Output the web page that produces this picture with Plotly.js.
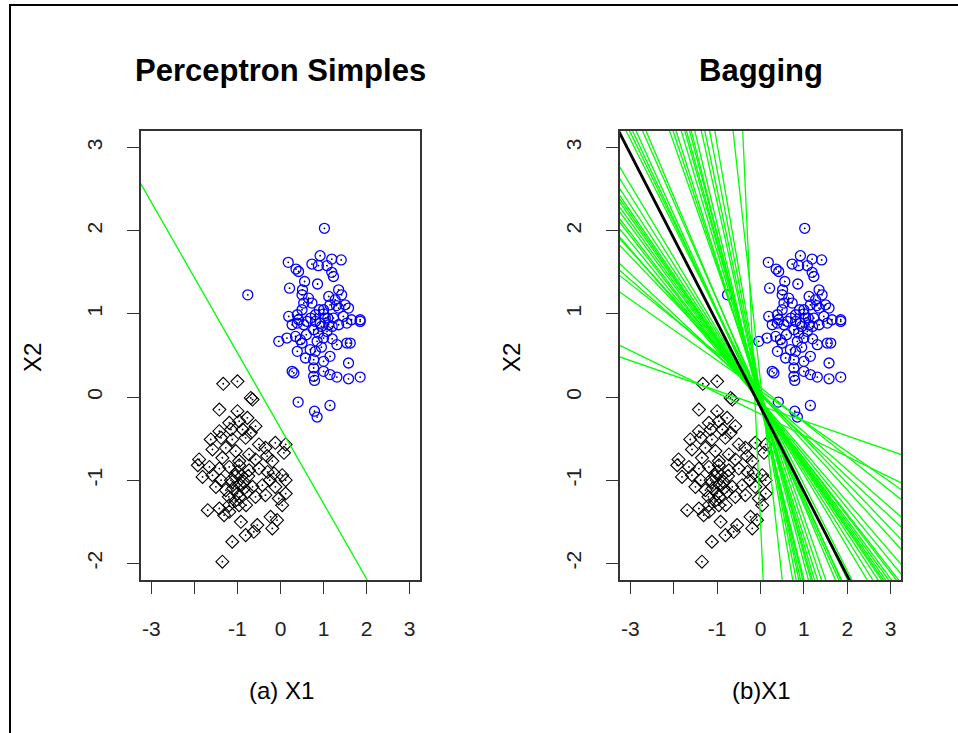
<!DOCTYPE html>
<html><head><meta charset="utf-8">
<script src="https://cdn.plot.ly/plotly-3.0.1.min.js"></script>
<style>
html,body{margin:0;padding:0;background:#fff;}
#chart{position:absolute;left:0;top:0;width:958px;height:733px;}
#frame{position:absolute;left:9px;top:4px;width:960px;height:740px;border-left:2px solid #000;border-top:2px solid #000;pointer-events:none;}
</style></head><body>
<div id="chart"></div><div id="frame"></div>
<script>
// ---- data ----
const blueX = [1.02,0.92,1.19,1.41,0.18,0.73,0.88,1.08,0.36,0.42,1.19,1.23,0.56,0.86,0.21,0.51,0.50,0.65,0.54,1.12,1.35,1.42,1.27,1.50,1.58,1.15,1.35,1.00,0.81,1.04,1.23,1.46,1.65,1.85,0.19,0.39,0.50,0.73,0.42,0.62,
0.27,0.39,0.54,0.81,0.92,1.12,1.35,1.54,1.85,-0.04,0.15,0.35,0.46,0.50,0.77,0.88,1.08,1.00,0.85,1.31,1.54,1.62,0.39,0.58,0.69,0.81,1.00,1.15,0.77,1.58,0.27,0.31,0.77,1.00,1.15,1.31,1.58,1.85,0.77,0.79,0.41,1.15,0.79,0.85,-0.76,
1.00,0.95,1.10,0.90,1.20,0.70,1.30,0.60,0.95,1.20];
const blueY = [2.03,1.70,1.66,1.65,1.62,1.60,1.58,1.58,1.54,1.51,1.50,1.45,1.39,1.36,1.31,1.29,1.23,1.19,1.13,1.21,1.29,1.23,1.17,1.11,1.07,1.11,1.07,1.05,0.99,0.95,0.95,0.97,0.93,0.93,0.97,0.99,1.05,1.13,0.93,0.91,
0.87,0.89,0.87,0.91,0.89,0.87,0.87,0.89,0.91,0.67,0.71,0.73,0.69,0.65,0.81,0.77,0.79,0.71,0.67,0.63,0.65,0.65,0.55,0.47,0.57,0.55,0.43,0.49,0.45,0.41,0.31,0.29,0.35,0.31,0.27,0.24,0.22,0.24,0.25,0.20,-0.06,-0.10,-0.17,-0.24,1.23,
1.00,0.85,0.95,1.05,0.85,0.95,1.10,0.75,0.60,0.70];

const blackX = [-1.33,-1.00,-0.69,-0.65,-1.42,-1.00,-0.77,-0.96,-1.19,-0.58,-1.15,-1.42,-0.88,-0.69,
-1.62,-1.38,-1.12,-0.81,-0.50,-0.35,-0.12,0.08,0.12,-0.31,-1.27,-1.04,-0.73,-1.58,-1.89,-1.35,-0.96,-0.58,-0.19,
-1.92,-1.65,-1.42,-1.19,-0.96,-0.73,-0.50,-0.15,0.04,0.12,-1.81,-1.58,-1.38,-1.12,-0.85,-0.65,-0.42,-0.12,0.12,-1.50,-1.27,-1.00,-0.77,-0.58,-0.35,-0.04,0.04,-1.69,-1.42,-1.31,-1.19,-0.96,-1.19,-0.92,-0.54,-0.23,-0.08,-0.19,-0.62,-0.81,-1.12,-1.35,
-1.05,-0.95,-0.90,-1.10,-0.85,-1.00,-0.95,-1.15,-0.75,-1.05,-0.80,-1.20,-0.30,-0.25];
const blackY = [0.16,0.19,-0.01,-0.03,-0.15,-0.17,-0.25,-0.29,-0.31,-0.35,-0.39,-0.41,-0.39,-0.43,
-0.51,-0.49,-0.51,-0.49,-0.57,-0.61,-0.55,-0.67,-0.57,-0.71,-0.61,-0.65,-0.69,-0.63,-0.75,-0.73,-0.77,-0.75,-0.77,
-0.82,-0.84,-0.86,-0.84,-0.82,-0.88,-0.86,-0.92,-0.94,-1.00,-0.96,-0.94,-1.00,-1.02,-1.02,-1.08,-1.06,-1.08,-1.16,-1.08,-1.12,-1.16,-1.14,-1.20,-1.18,-1.22,-1.30,-1.36,-1.34,-1.42,-1.30,-1.30,-1.38,-1.50,-1.54,-1.44,-1.48,-1.58,-1.62,-1.66,-1.74,-1.98,
-0.95,-1.05,-0.95,-1.10,-1.10,-0.90,-1.20,-1.00,-0.95,-1.25,-1.30,-1.20,-0.90,-1.00];

// decision boundary of the single perceptron: X2 = intercept + slope * X1
const perceptronIntercept = -0.375;
const perceptronSlope = -0.906;

// bagging: boundaries of the individual perceptrons
const baggingIntercepts = [-0.013,-0.042,-0.105,-0.112,-0.014,-0.063,0.058,0.019,-0.021,-0.010,-0.005,-0.008,-0.022,-0.113,-0.086,-0.019,0.002,0.027,0.034,0.19,-1.50,
-0.105,-0.205,0.075,0.115,0.04,0.02,0.055,0.035,-0.045,-0.055,
-0.069,-0.066,-0.066,-0.064,-0.062,-0.063,-0.061,-0.058,-0.058,-0.059];
const baggingSlopes = [-1.037,-1.074,-1.121,-1.155,-1.182,-1.237,-1.499,-1.578,-1.655,-1.758,-1.836,-1.881,-1.971,-2.077,-2.169,-2.360,-2.491,-2.704,-3.006,-4.761,-11.447,
-0.181,-0.255,-0.366,-0.415,-0.457,-0.488,-0.545,-0.576,-0.607,-0.640,
-0.669,-0.681,-0.706,-0.723,-0.741,-0.754,-0.766,-0.790,-0.827,-0.870];
// combined (bagged) boundary
const baggingMeanIntercept = -0.12;
const baggingMeanSlope = -1.015;

const xTickVals = [-3,-2,-1,0,1,2,3];
const xTickText = ['-3','','-1','0','1','2','3'];
const yTickVals = [-2,-1,0,1,2,3];
const yTickText = ['-2','-1','0','1','2','3'];
const panelTitles = ['Perceptron Simples','Bagging'];
const xTitles = ['(a) X1','(b)X1'];
const yTitle = 'X2';

// ---- build ----
const FONT = 'Liberation Sans, Arial, sans-serif';
const LINE_X = [-3.6, 3.6];
function boundary(a, b) { return LINE_X.map(x => a + b * x); }

function pointTraces(xa, ya) {
  return [
    {x: blackX, y: blackY, xaxis: xa, yaxis: ya, type: 'scatter', mode: 'markers',
     marker: {symbol: 'diamond-open', size: 10, color: '#000', line: {width: 1.1, color: '#000'}}, cliponaxis: true},
    {x: blueX, y: blueY, xaxis: xa, yaxis: ya, type: 'scatter', mode: 'markers',
     marker: {symbol: 'circle-open', size: 10, color: '#0000ff', line: {width: 1.3, color: '#0000ff'}}, cliponaxis: true},
    {x: blackX.concat(blueX), y: blackY.concat(blueY), xaxis: xa, yaxis: ya, type: 'scatter', mode: 'markers',
     marker: {symbol: 'circle', size: 1.8, color: '#000'}, cliponaxis: true}
  ];
}

const traces = [];
traces.push(...pointTraces('x', 'y'));
traces.push({x: LINE_X, y: boundary(perceptronIntercept, perceptronSlope), xaxis: 'x', yaxis: 'y',
  type: 'scatter', mode: 'lines', line: {color: '#00ff00', width: 1.3}});

traces.push(...pointTraces('x2', 'y2'));
const gx = [], gy = [];
baggingIntercepts.forEach((a, i) => {
  const ys = boundary(a, baggingSlopes[i]);
  gx.push(LINE_X[0], LINE_X[1], null);
  gy.push(ys[0], ys[1], null);
});
traces.push({x: gx, y: gy, xaxis: 'x2', yaxis: 'y2', type: 'scatter', mode: 'lines',
  line: {color: '#00ff00', width: 1.3}, connectgaps: false});
traces.push({x: LINE_X, y: boundary(baggingMeanIntercept, baggingMeanSlope), xaxis: 'x2', yaxis: 'y2',
  type: 'scatter', mode: 'lines', line: {color: '#000', width: 2.8}});

const W = 958, H = 733;
const yDomain = [1 - 580 / H, 1 - 131 / H];
function xAxis(d, anchor) {
  return {domain: d, anchor: anchor, range: [-3.24, 3.24], showgrid: false, zeroline: false,
    showline: true, mirror: true, linecolor: '#333', linewidth: 1.6,
    ticks: 'outside', ticklen: 12, tickwidth: 1, tickcolor: '#333',
    tickmode: 'array', tickvals: xTickVals, ticktext: xTickText, ticklabelstandoff: 17,
    tickfont: {family: FONT, size: 21, color: '#222'}};
}
function yAxis(anchor) {
  return {domain: yDomain, anchor: anchor, range: [-2.2, 3.2], showgrid: false, zeroline: false,
    showline: true, mirror: true, linecolor: '#333', linewidth: 1.6,
    ticks: 'outside', ticklen: 12, tickwidth: 1, tickcolor: '#333',
    tickmode: 'array', tickvals: yTickVals, ticktext: yTickText, tickangle: -90, ticklabelstandoff: 17,
    tickfont: {family: FONT, size: 21, color: '#222'}};
}
function ann(text, px, py, size, bold, angle) {
  return {text: bold ? '<b>' + text + '</b>' : text, xref: 'paper', yref: 'paper', x: px / W, y: 1 - py / H,
    xanchor: 'center', yanchor: 'middle', showarrow: false, textangle: angle || 0,
    font: {family: FONT, size: size, color: '#000'}};
}

const layout = {
  width: W, height: H, margin: {l: 0, r: 0, t: 0, b: 0},
  paper_bgcolor: '#fff', plot_bgcolor: '#fff', showlegend: false,
  xaxis: xAxis([141 / W, 420 / W], 'y'),
  yaxis: yAxis('x'),
  xaxis2: xAxis([620 / W, 901 / W], 'y2'),
  yaxis2: yAxis('x2'),
  annotations: [
    ann(panelTitles[0], 280, 70, 31, true),
    ann(panelTitles[1], 761, 70, 31, true),
    ann(xTitles[0], 281, 690, 24, false),
    ann(xTitles[1], 761, 690, 24, false),
    ann(yTitle, 32, 357, 24, false, -90),
    ann(yTitle, 511, 357, 24, false, -90)
  ]
};

Plotly.newPlot('chart', traces, layout, {staticPlot: true, displayModeBar: false});
</script>
</body></html>
